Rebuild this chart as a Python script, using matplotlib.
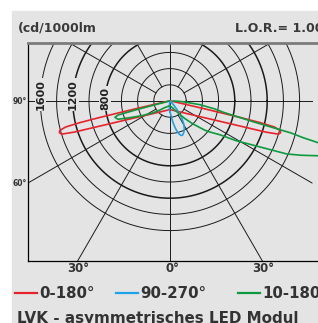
import numpy as np
import matplotlib.pyplot as plt

# light intensity distribution, cd/1000lm, gamma measured from nadir
red_gamma = [0, 30, 45, 55, 60, 64, 67, 69, 70.5, 72, 73, 74, 75, 76, 76.5, 76.8, 77, 77.3, 77.8, 79, 85, 90]
red_cd = [106, 142, 196, 279, 358, 468, 606, 763, 944, 1242, 1400, 1420, 1410, 1330, 1150, 900, 640, 400, 200, 80, 20, 10]

blue_c90_gamma = [0, 5, 8, 11, 14, 17, 19, 21, 24, 27, 31, 35, 38, 42, 50, 60, 90]
blue_c90_cd = [130, 200, 270, 340, 405, 440, 450, 445, 420, 390, 330, 250, 170, 80, 20, 5, 0]
blue_c270_gamma = [0, 4, 8, 15, 90]
blue_c270_cd = [136, 111, 50, 10, 0]

green_c10_gamma = [0, 10, 20, 30, 40, 45, 50, 52, 56, 59, 62, 65.6, 67.5, 70, 71, 72, 72.8,
                   73.5, 74.2, 74.6, 75.2, 76, 78, 80, 83, 86, 88, 90]
green_c10_cd = [60, 70, 90, 140, 280, 400, 560, 620, 747, 950, 1160, 1583, 1750, 1980, 2200, 2450, 2600,
                2450, 1950, 1700, 1546, 1056, 680, 560, 370, 185, 110, 40]
green_c190_gamma = [0, 20, 40, 48, 55, 62, 67, 70.6, 73.5, 74.9, 75.5, 76, 77, 80, 90]
green_c190_cd = [60, 70, 110, 166, 250, 380, 520, 680, 709, 665, 400, 150, 40, 20, 10]

rings = [200, 400, 600, 800, 1000, 1200, 1400, 1600]
ring_labels = [1600, 1200, 800]
legend_names = ['0-180°', '90-270°', '10-180°']
colors = ['#e8232b', '#1fa3e8', '#0b9a3e']

BG = '#e4e4e4'
W, H = 318, 323
cx, cy = 170, 101          # pole position in pixels
k = 200 / 16.2             # cd per pixel
box_l, box_r, box_t, box_b = 28, 312, 43, 261

fig = plt.figure(figsize=(W / 100, H / 100), dpi=100)
canvas = fig.add_axes([0, 0, 1, 1])
canvas.set_xlim(0, W)
canvas.set_ylim(H, 0)
canvas.axis('off')
canvas.add_patch(plt.Rectangle((12, 11), W, H, color=BG, zorder=0))

ax = fig.add_axes([box_l / W, 1 - box_b / H, (W - box_l) / W, (box_b - box_t) / H])
ax.set_xlim((box_l - cx) * k, (W - cx) * k)
ax.set_ylim(-(box_b - cy) * k, (cy - box_t) * k)
ax.set_facecolor(BG)
ax.set_xticks([])
ax.set_yticks([])
ax.spines['right'].set_visible(False)
ax.spines['left'].set_linewidth(0.9)
ax.spines['bottom'].set_linewidth(0.9)
ax.spines['top'].set_color('#7b7b7b')
ax.spines['top'].set_linewidth(2)

# circles
t = np.linspace(0, 2 * np.pi, 400)
for r in rings:
    lw = 1.1 if r in (800, 1200) else 0.7
    ax.plot(r * np.cos(t), r * np.sin(t), color='#1a1a1a', lw=lw, zorder=1)

# radial lines, clipped to the frame
xmin, xmax = (box_l - cx) * k, (box_r - cx) * k
ymin, ymax = -(box_b - cy) * k, (cy - box_t) * k
for ang in [0, 30, 60, 90, 120, 150, 180, 210, 240, 270, 300, 330]:
    a = np.radians(ang)
    dx, dy = np.cos(a), np.sin(a)
    ts = []
    if abs(dx) > 1e-9:
        ts.append((xmax if dx > 0 else xmin) / dx)
    if abs(dy) > 1e-9:
        ts.append((ymax if dy > 0 else ymin) / dy)
    r1 = min(ts)
    r0 = 0 if ang % 90 == 0 else 200
    ax.plot([r0 * dx, r1 * dx], [r0 * dy, r1 * dy], color='#1a1a1a', lw=0.7, zorder=1)

for v in ring_labels:
    ax.text(-v, -9 * k, str(v), rotation=90, ha='center', va='bottom', fontsize=8,
            fontweight='bold', color='#222222', zorder=2,
            bbox=dict(facecolor=BG, edgecolor='none', pad=0.6))


def curve(g_left, i_left, g_right, i_right):
    gl = np.radians(np.array(g_left[::-1]))
    il = np.array(i_left[::-1])
    gr = np.radians(np.array(g_right))
    ir = np.array(i_right)
    x = np.concatenate([-il * np.sin(gl), ir * np.sin(gr)])
    y = np.concatenate([-il * np.cos(gl), -ir * np.cos(gr)])
    return x, y


lines = [
    curve(red_gamma, red_cd, red_gamma, red_cd),
    curve(blue_c270_gamma, blue_c270_cd, blue_c90_gamma, blue_c90_cd),
    curve(green_c190_gamma, green_c190_cd, green_c10_gamma, green_c10_cd),
]
for (x, y), c in zip(lines, colors):
    ax.plot(x, y, color=c, lw=1.2, zorder=3, solid_joinstyle='round')

# angle labels
lab = dict(fontsize=5.5, fontweight='bold', color='#333333', va='center')
canvas.text(26.5, cy, '90°', ha='right', **lab)
canvas.text(26.5, 184, '60°', ha='right', **lab)
canvas.text(313, cy, '90°', ha='left', **lab)
canvas.text(313, 182, '60°', ha='left', **lab)
bot = dict(fontsize=8.5, fontweight='bold', color='#333333', va='top', ha='center')
off = (box_b - cy) * np.tan(np.radians(30))
canvas.text(cx - off + 1, 261.5, '30°', **bot)
canvas.text(cx + 2.5, 261.5, '0°', **bot)
canvas.text(cx + off + 1, 261.5, '30°', **bot)

top = dict(fontweight='bold', color='#3a3a3a', va='baseline')
canvas.text(18, 31.5, '(cd/1000lm', ha='left', fontsize=9, **top)
canvas.text(235, 32, 'L.O.R.= 1.00', ha='left', fontsize=9, **top)

# legend
leg_x = [15, 116, 238]
for x0, name, c in zip(leg_x, legend_names, colors):
    canvas.plot([x0, x0 + 22], [293, 293], color=c, lw=1.6)
    canvas.text(x0 + 24, 297.5, name, fontsize=10.8, fontweight='bold', color='#333333',
                ha='left', va='baseline')

canvas.text(17, 323.5, 'LVK - asymmetrisches LED Modul', fontsize=10.9, fontweight='bold',
            color='#333333', ha='left', va='baseline')

fig.savefig('out.png', dpi=100, facecolor='white')
